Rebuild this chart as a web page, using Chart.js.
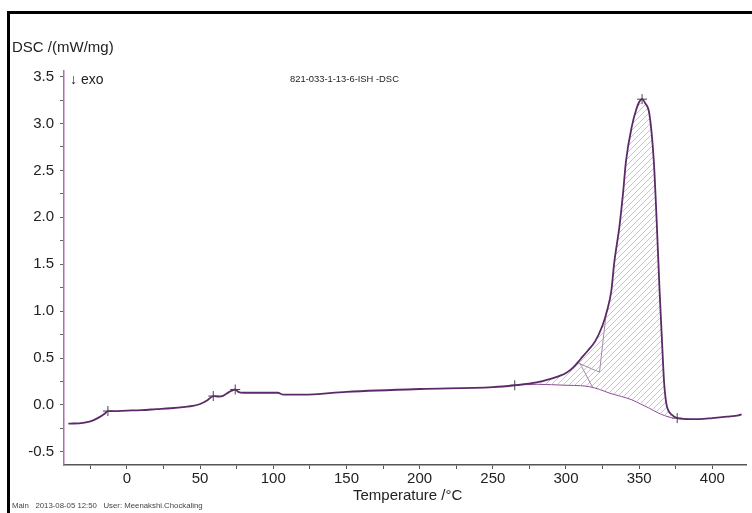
<!DOCTYPE html>
<html>
<head>
<meta charset="utf-8">
<script src="https://cdn.jsdelivr.net/npm/chart.js@4/dist/chart.umd.min.js"></script>
<style>
  body { margin: 0; background: #fff; font-family: "Liberation Sans", Arial, sans-serif; }
  #wrap { position: relative; width: 752px; height: 513px; overflow: hidden; }
  #frame { position: absolute; left: 7px; top: 11px; right: -5px; bottom: -5px; border-top: 3px solid #000; border-left: 3px solid #000; }
  canvas { position: absolute; left: 0; top: 0; }
  .lbl { position: absolute; color: #222; white-space: nowrap; }
</style>
</head>
<body>
<div id="wrap">
  <div id="frame"></div>
  <canvas id="dsc" width="752" height="513"></canvas>
  <div class="lbl" style="left:12px;top:38px;font-size:15px;">DSC /(mW/mg)</div>
  <div class="lbl" style="left:70px;top:71px;font-size:14px;">↓ exo</div>
  <div class="lbl" style="left:290px;top:73px;font-size:9.4px;">821-033-1-13-6-ISH -DSC</div>
  <div class="lbl" style="left:353px;top:486px;font-size:15px;">Temperature /°C</div>
  <div class="lbl" style="left:12px;top:501px;font-size:7.8px;color:#444;">Main&nbsp;&nbsp;&nbsp;2013-08-05 12:50&nbsp;&nbsp;&nbsp;User: Meenakshi.Chockaling</div>
</div>
<script>
// DSC curve (temperature in °C, signal in mW/mg)
const temps = [-40, -30, -25, -20, -15, -13, -10, 0, 10, 20, 30, 40, 45, 50, 55, 59, 63, 66, 70, 74, 76, 80, 90, 100, 103, 107, 120, 150, 200, 250, 265, 280, 290, 300, 305, 310, 315, 320, 325, 328, 331, 333, 336.5, 339, 341, 345, 348, 350, 352, 354, 357, 360, 362, 364, 366, 367, 368.5, 370, 372, 376, 385, 391, 400, 410, 418, 420];
const dsc = [-0.20, -0.19, -0.175, -0.14, -0.09, -0.065, -0.065, -0.06, -0.055, -0.045, -0.035, -0.02, -0.01, 0.01, 0.05, 0.095, 0.09, 0.10, 0.14, 0.165, 0.14, 0.13, 0.13, 0.13, 0.13, 0.11, 0.11, 0.14, 0.17, 0.19, 0.21, 0.24, 0.28, 0.34, 0.40, 0.49, 0.58, 0.68, 0.85, 1.0, 1.22, 1.52, 1.9, 2.26, 2.6, 2.97, 3.15, 3.23, 3.26, 3.22, 3.1, 2.6, 1.95, 1.2, 0.55, 0.25, 0.02, -0.06, -0.10, -0.14, -0.15, -0.15, -0.14, -0.125, -0.11, -0.10];

// integration baseline under the big peak
const baseTemps = [265, 280, 300, 310, 316, 323, 330, 338, 345, 351, 357, 363, 368, 373];
const baseDsc = [0.21, 0.22, 0.21, 0.205, 0.195, 0.165, 0.125, 0.09, 0.055, 0.01, -0.035, -0.085, -0.117, -0.14];

// partial area split lines
const splitATemps = [327.7, 322.9, 307.9];
const splitADsc = [1.01, 0.35, 0.45];
const splitBTemps = [309.3, 318.1];
const splitBDsc = [0.45, 0.19];

// "+" markers (onset / peak / end)
const markTemps = [-13, 59, 74, 265, 352, 376];
const markDsc = [-0.065, 0.095, 0.165, 0.21, 3.26, -0.14];

const xTicks = [0, 50, 100, 150, 200, 250, 300, 350, 400];
const yTicks = [-0.5, 0.0, 0.5, 1.0, 1.5, 2.0, 2.5, 3.0, 3.5];

const toXY = (xs, ys) => xs.map((x, i) => ({ x: x, y: ys[i] }));
const peakPart = toXY(temps, dsc).filter(p => p.x >= 265 && p.x <= 373);

function hatch() {
  const c = document.createElement("canvas");
  c.width = 6; c.height = 6;
  const g = c.getContext("2d");
  g.strokeStyle = "#b4a8bb";
  g.lineWidth = 0.7;
  g.beginPath();
  g.moveTo(0, 6); g.lineTo(6, 0);
  g.moveTo(-1, 1); g.lineTo(1, -1);
  g.moveTo(5, 7); g.lineTo(7, 5);
  g.stroke();
  return g.createPattern(c, "repeat");
}

const ctx = document.getElementById("dsc").getContext("2d");
new Chart(ctx, {
  type: "line",
  data: {
    datasets: [
      {
        data: toXY(temps, dsc),
        borderColor: "#5c2a68",
        borderWidth: 1.8,
        pointRadius: 0,
        cubicInterpolationMode: "monotone",
        fill: false
      },
      {
        data: peakPart,
        borderWidth: 0,
        borderColor: "rgba(0,0,0,0)",
        pointRadius: 0,
        cubicInterpolationMode: "monotone",
        backgroundColor: hatch(),
        fill: 2
      },
      {
        data: toXY(baseTemps, baseDsc),
        borderColor: "#8a4c92",
        borderWidth: 1,
        pointRadius: 0,
        cubicInterpolationMode: "monotone",
        fill: false
      },
      {
        data: toXY(splitATemps, splitADsc),
        borderColor: "#a088a8",
        borderWidth: 1,
        pointRadius: 0,
        tension: 0,
        fill: false
      },
      {
        data: toXY(splitBTemps, splitBDsc),
        borderColor: "#a088a8",
        borderWidth: 1,
        pointRadius: 0,
        tension: 0,
        fill: false
      },
      {
        data: toXY(markTemps, markDsc),
        showLine: false,
        pointStyle: "cross",
        pointRadius: 5,
        borderColor: "#444",
        pointBorderWidth: 1
      }
    ]
  },
  options: {
    responsive: false,
    animation: false,
    devicePixelRatio: 1,
    layout: { padding: { left: 10, top: 71, right: 5, bottom: 0 } },
    plugins: { legend: { display: false }, tooltip: { enabled: false } },
    scales: {
      x: {
        type: "linear",
        min: -43,
        max: 423,
        afterFit: s => { s.height = 48; },
        border: { color: "#555", width: 1.5 },
        grid: { drawOnChartArea: false, drawTicks: true, tickLength: 4, color: "#555" },
        ticks: {
          stepSize: 25,
          includeBounds: false,
          autoSkip: false,
          maxRotation: 0,
          padding: 1,
          color: "#222",
          font: { family: "Liberation Sans, Arial", size: 15 },
          callback: v => xTicks.includes(v) ? String(v) : ""
        }
      },
      y: {
        type: "linear",
        min: -0.64,
        max: 3.56,
        afterFit: s => { s.width = 54; },
        border: { color: "#b06cb2", width: 1.5 },
        grid: { drawOnChartArea: false, drawTicks: true, tickLength: 4, color: "#666" },
        ticks: {
          stepSize: 0.25,
          includeBounds: false,
          autoSkip: false,
          padding: 6,
          color: "#222",
          font: { family: "Liberation Sans, Arial", size: 15 },
          callback: v => {
            const hit = yTicks.find(t => Math.abs(t - v) < 1e-6);
            return hit === undefined ? "" : hit.toFixed(1);
          }
        }
      }
    }
  }
});
</script>
</body>
</html>
